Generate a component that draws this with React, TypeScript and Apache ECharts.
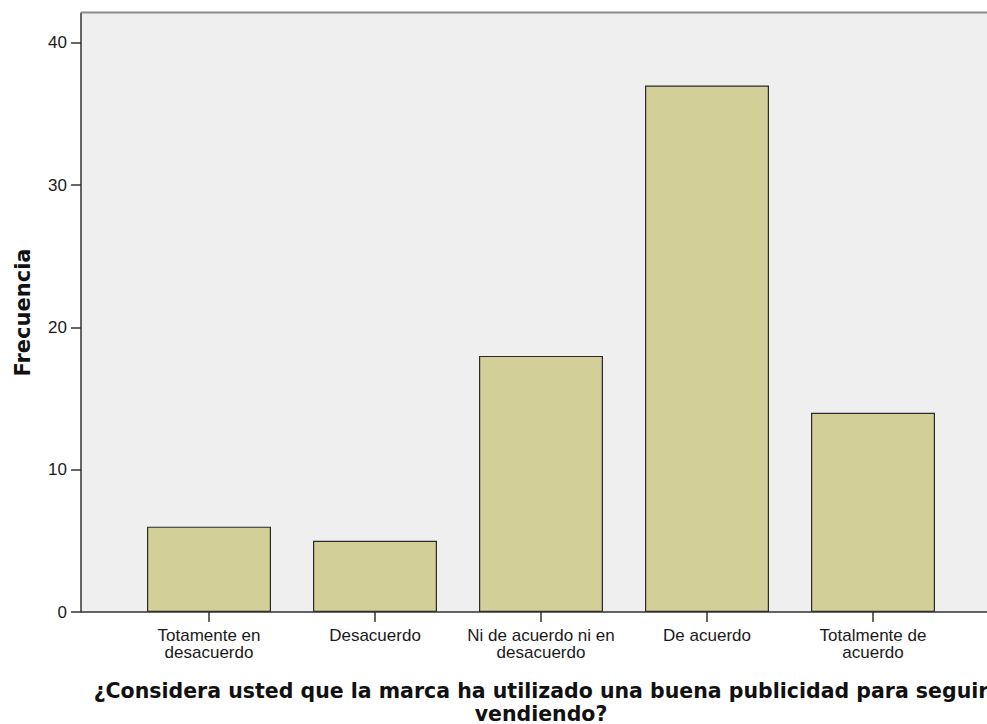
import React, { useEffect, useRef } from "react";
import * as echarts from "echarts";

const categories = [
  "Totamente en\ndesacuerdo",
  "Desacuerdo",
  "Ni de acuerdo ni en\ndesacuerdo",
  "De acuerdo",
  "Totalmente de\nacuerdo",
];
const frequencies = [6, 5, 18, 37, 14];
const yTicks = [0, 10, 20, 30, 40];
const xTitle = "¿Considera usted que la marca ha utilizado una buena publicidad para seguir\nvendiendo?";
const yTitle = "Frecuencia";
const topTitleTail = "vendiendo?";

export default function App() {
  const ref = useRef<HTMLDivElement>(null);
  useEffect(() => {
    if (!ref.current) return;
    const chart = echarts.init(ref.current, null, { renderer: "svg" });
    const gridLeft = 126;
    const gridTop = 13;
    const gridWidth = 830;
    const gridHeight = 599;
    const plotLeft = 81;
    const bottom = gridTop + gridHeight;
    chart.setOption({
      animation: false,
      backgroundColor: "#ffffff",
      textStyle: { fontFamily: "Liberation Sans" },
      grid: {
        left: gridLeft,
        top: gridTop,
        width: gridWidth,
        height: gridHeight,
        containLabel: false,
        outerBoundsMode: "none",
      },
      graphic: [
        {
          type: "rect",
          z: -10,
          silent: true,
          shape: { x: plotLeft, y: gridTop, width: 1000 - plotLeft, height: gridHeight },
          style: { fill: "#efefef" },
        },
        {
          type: "line",
          z: 10,
          silent: true,
          shape: { x1: plotLeft, y1: gridTop - 0.5, x2: 1000, y2: gridTop - 0.5 },
          style: { stroke: "#8c8c8c", lineWidth: 2 },
        },
        {
          type: "line",
          z: 10,
          silent: true,
          shape: { x1: plotLeft, y1: bottom, x2: 1000, y2: bottom },
          style: { stroke: "#333333", lineWidth: 1.5 },
        },
        {
          type: "text",
          z: 10,
          silent: true,
          x: 497,
          y: 3,
          style: {
            text: topTitleTail,
            fontFamily: "DejaVu Sans",
            fontWeight: "bold",
            fontSize: 21,
            fill: "#111",
            align: "center",
            verticalAlign: "bottom",
          },
        },
      ],
      xAxis: {
        type: "category",
        data: categories,
        axisLine: { show: false },
        axisTick: { show: true, alignWithLabel: true, length: 10, lineStyle: { color: "#333", width: 1.5 } },
        axisLabel: {
          interval: 0,
          margin: 15,
          fontSize: 17,
          lineHeight: 17,
          color: "#1a1a1a",
          fontFamily: "Liberation Sans",
        },
        name: xTitle,
        nameLocation: "middle",
        nameGap: 67,
        nameTextStyle: {
          fontFamily: "DejaVu Sans",
          fontWeight: "bold",
          fontSize: 20.5,
          lineHeight: 23,
          color: "#111",
        },
        splitLine: { show: false },
      },
      yAxis: {
        type: "value",
        min: 0,
        max: 42.1,
        interval: 10,
        offset: gridLeft - plotLeft,
        axisLine: { show: true, lineStyle: { color: "#333", width: 1.5 } },
        axisTick: { show: true, length: 10, customValues: yTicks, lineStyle: { color: "#333", width: 1.5 } },
        axisLabel: {
          customValues: yTicks,
          margin: 14,
          fontSize: 17,
          color: "#1a1a1a",
          fontFamily: "Liberation Sans",
        },
        splitLine: { show: false },
        name: yTitle,
        nameLocation: "middle",
        nameGap: 48,
        nameTextStyle: {
          fontFamily: "DejaVu Sans",
          fontWeight: "bold",
          fontSize: 21,
          color: "#111",
        },
      },
      series: [
        {
          type: "bar",
          data: frequencies,
          barWidth: 124,
          itemStyle: { color: "#d3cf98", borderColor: "#2b2b2b", borderWidth: 1.2 },
        },
      ],
    });
    return () => chart.dispose();
  }, []);
  return (
    <div
      ref={ref}
      style={{ position: "absolute", left: 0, top: 0, width: 987, height: 724 }}
    />
  );
}
